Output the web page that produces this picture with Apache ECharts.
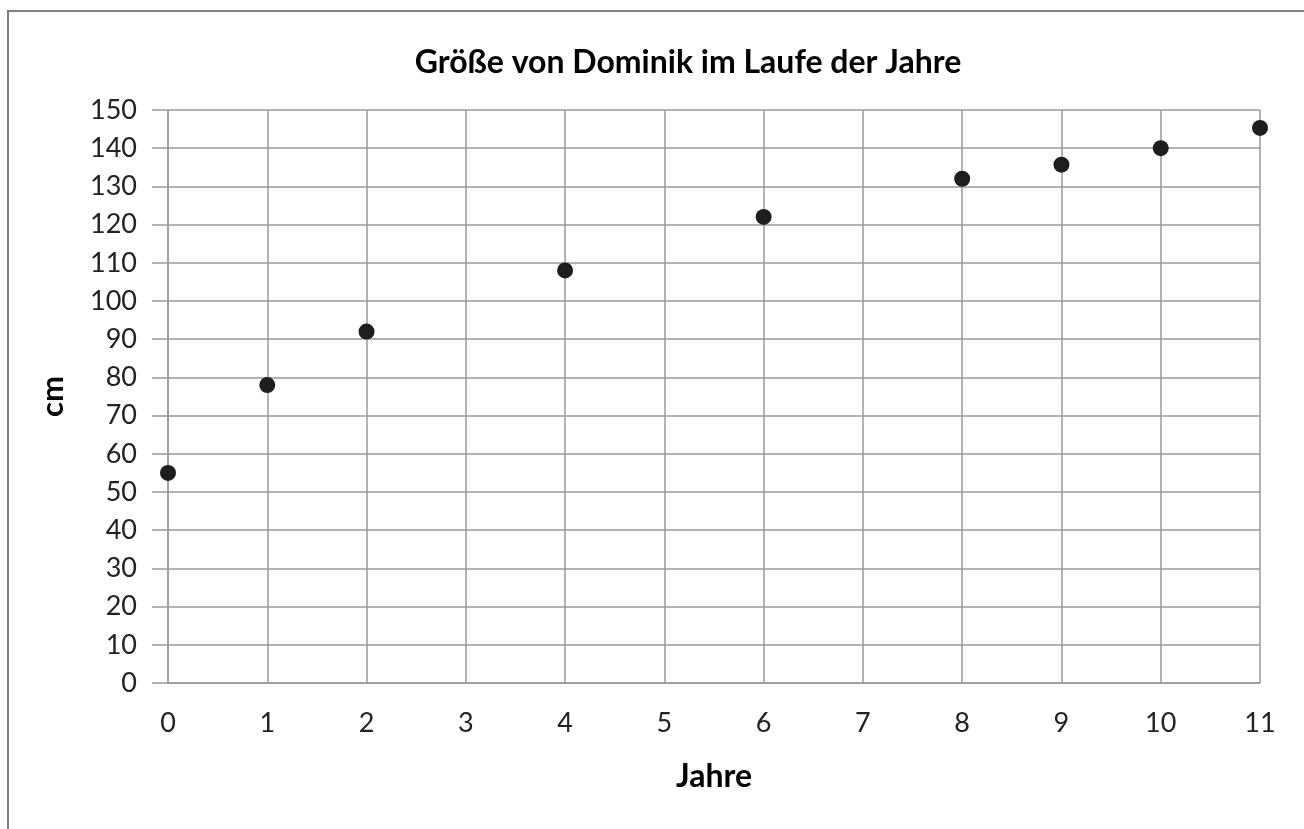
<!DOCTYPE html>
<html><head><meta charset="utf-8">
<script src="https://cdn.jsdelivr.net/npm/echarts@6/dist/echarts.min.js"></script>
<style>html,body{margin:0;padding:0;background:#fff}#c{width:1304px;height:829px}</style>
</head><body><div id="c"></div>
<script>
const title = 'Größe von Dominik im Laufe der Jahre';
const xName = 'Jahre';
const yName = 'cm';
const years = [0, 1, 2, 4, 6, 8, 9, 10, 11];
const heights = [55, 78, 92, 108, 122, 132, 135.7, 140, 145.3];

const chart = echarts.init(document.getElementById('c'));
const gray = '#9a9a9a';
const font = 'Lato, "Open Sans", sans-serif';
chart.setOption({
  backgroundColor: '#fff',
  animation: false,
  title: {
    text: title, left: 683, top: 42, textAlign: 'center',
    textStyle: {fontFamily: font, fontSize: 32, fontWeight: 'bold', color: '#000'}
  },
  graphic: [
    {type: 'polyline', shape: {points: [[8, 829], [8, 11], [1304, 11]]}, style: {stroke: '#7f7f7f', lineWidth: 2, fill: null}}
  ],
  grid: {left: 168, right: 44, top: 110, bottom: 146},
  xAxis: {
    type: 'value', min: 0, max: 11, interval: 1,
    name: xName, nameLocation: 'middle', nameGap: 78,
    nameTextStyle: {fontFamily: font, fontSize: 32, fontWeight: 'bold', color: '#000'},
    axisLine: {show: true, lineStyle: {color: gray, width: 1.5}},
    axisTick: {show: false},
    axisLabel: {margin: 27, fontFamily: font, fontSize: 27, color: '#222'},
    splitLine: {show: true, lineStyle: {color: gray, width: 1.5}}
  },
  yAxis: {
    type: 'value', min: 0, max: 150, interval: 10,
    name: yName, nameLocation: 'middle', nameGap: 100, nameRotate: 90,
    nameTextStyle: {fontFamily: font, fontSize: 31, fontWeight: 'bold', color: '#000'},
    axisLine: {show: true, lineStyle: {color: gray, width: 1.5}},
    axisTick: {show: true, length: 16, lineStyle: {color: gray, width: 1.5}},
    axisLabel: {margin: 31, fontFamily: font, fontSize: 27, color: '#222'},
    splitLine: {show: true, lineStyle: {color: gray, width: 1.5}}
  },
  series: [{
    type: 'scatter',
    data: years.map((x, i) => [x, heights[i]]),
    symbol: 'circle', symbolSize: 16,
    itemStyle: {color: '#1e1e1e', opacity: 1}
  }]
});
</script></body></html>
